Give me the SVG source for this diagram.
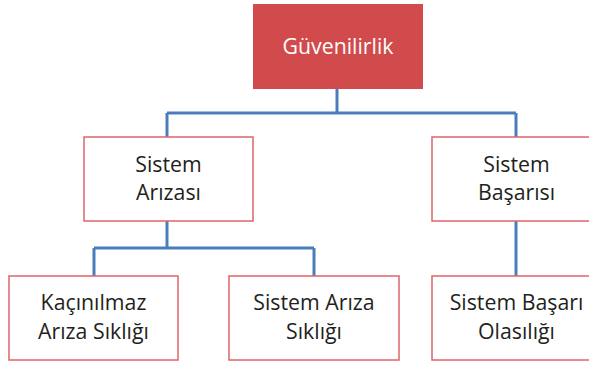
<svg xmlns="http://www.w3.org/2000/svg" width="589" height="365" viewBox="0 0 589 365">
  <style>
    .box { fill: #ffffff; stroke: #E0646A; stroke-width: 1.5; }
    .root { fill: #D24B4C; stroke: none; }
    .lbl { font-family: "Open Sans", "Noto Sans", sans-serif; font-size: 21.3px; fill: #231F20; text-anchor: middle; }
    .lbl-w { fill: #ffffff; }
    .conn { fill: none; stroke: #4A7EBB; stroke-width: 3; }
  </style>

  <g id="connectors">
    <path class="conn" d="M337,89 V113 M167,113 H516 M167,113 V137 M516,113 V137"/>
    <path class="conn" d="M167,221 V248 M94,248 H314 M94,248 V276 M314,248 V276"/>
    <path class="conn" d="M516,221 V276"/>
  </g>

  <g id="guvenilirlik">
    <rect class="root" x="253" y="4" width="170" height="85"/>
    <text class="lbl lbl-w" x="338" y="54">Güvenilirlik</text>
  </g>

  <g id="sistem-arizasi">
    <rect class="box" x="84" y="137" width="169" height="84"/>
    <text class="lbl" x="168.5" y="172">Sistem</text>
    <text class="lbl" x="168.5" y="200">Arızası</text>
  </g>

  <g id="sistem-basarisi">
    <rect class="box" x="432" y="137" width="169" height="84"/>
    <text class="lbl" x="516.5" y="172">Sistem</text>
    <text class="lbl" x="516.5" y="200">Başarısı</text>
  </g>

  <g id="kacinilmaz-ariza-sikligi">
    <rect class="box" x="9" y="276" width="169" height="84"/>
    <text class="lbl" x="93.5" y="310">Kaçınılmaz</text>
    <text class="lbl" x="93.5" y="339">Arıza Sıklığı</text>
  </g>

  <g id="sistem-ariza-sikligi">
    <rect class="box" x="229" y="276" width="170" height="84"/>
    <text class="lbl" x="314" y="310">Sistem Arıza</text>
    <text class="lbl" x="314" y="339">Sıklığı</text>
  </g>

  <g id="sistem-basari-olasiligi">
    <rect class="box" x="432" y="276" width="169" height="84"/>
    <text class="lbl" x="516.5" y="310">Sistem Başarı</text>
    <text class="lbl" x="516.5" y="339">Olasılığı</text>
  </g>
</svg>
